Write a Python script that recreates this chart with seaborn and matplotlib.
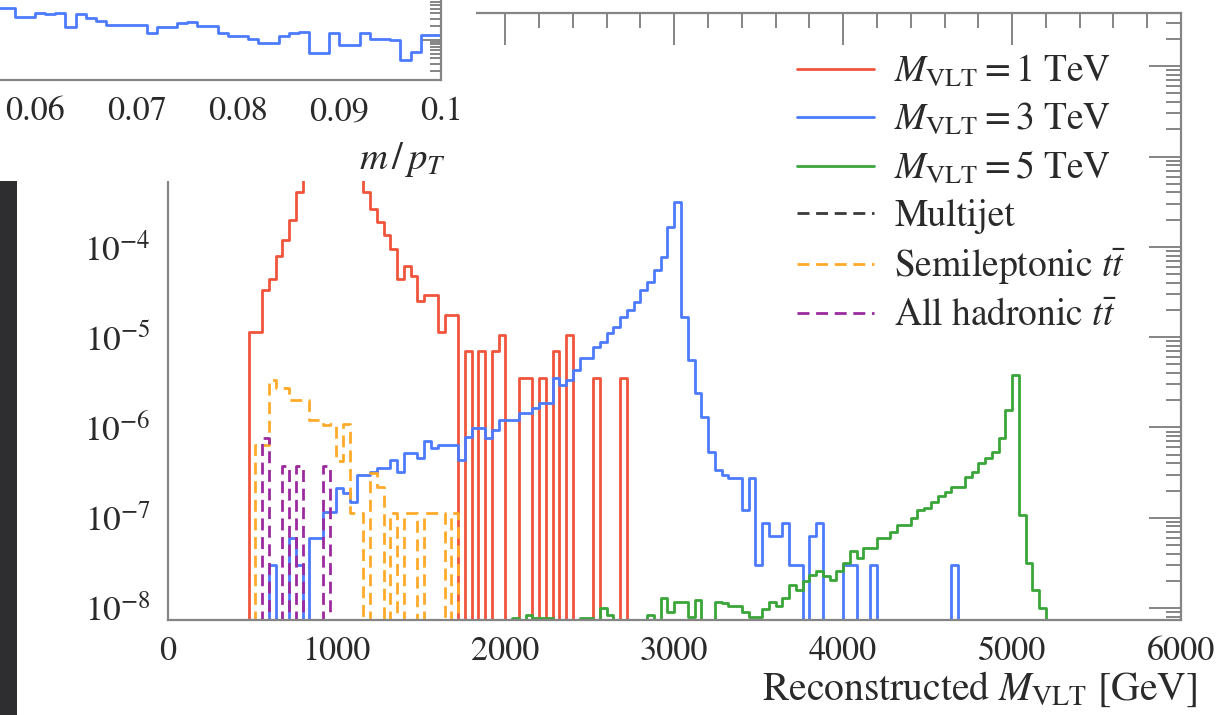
import numpy as np
import matplotlib
matplotlib.use("Agg")
import matplotlib.pyplot as plt
from matplotlib.patches import Rectangle
from matplotlib.ticker import MultipleLocator, LogLocator, NullFormatter, FuncFormatter, FixedLocator
import seaborn as sns

sns.set_theme(style="white")
plt.rcParams["font.family"] = ["STIXGeneral", "DejaVu Serif"]
plt.rcParams["mathtext.fontset"] = "stix"

# ---------------- data: reconstructed VLT mass, 40 GeV bins from 0 to 6000 GeV ----------------
BIN_GEV = 40
MASS_MAX = 6000

red_first_gev = 480
red_vals = [1.15e-5, 1.15e-5, 3.3e-5, 4.4e-5, 8.0e-5, 1.2e-4, 2.0e-4, 4.0e-4,
            7.0e-4, 1.1e-3, 1.6e-3, 2.2e-3, 2.6e-3, 2.4e-3, 1.8e-3, 1.2e-3, 7.0e-4,
            4.0e-4, 2.6e-4, 1.9e-4, 1.35e-4, 9.5e-5, 4.4e-5, 6.2e-5, 4.8e-5, 2.5e-5,
            2.9e-5, 2.9e-5, 1.15e-5, 1.75e-5, 1.75e-5,
            0, 7.0e-6, 0, 7.0e-6, 0, 7.0e-6, 1.05e-5, 0, 0, 3.5e-6, 3.5e-6, 0, 3.5e-6,
            0, 7.0e-6, 0, 1.05e-5, 0, 0, 0, 3.5e-6, 0, 0, 0, 3.5e-6]

blue_first_gev = 600
blue_vals = [3.0e-8, 0, 0, 5.9e-8, 3.0e-8, 0, 5.9e-8, 5.9e-8,
             1.17e-7, 1.17e-7, 2.12e-7, 1.87e-7, 1.5e-7, 3.0e-7, 3.0e-7, 3.24e-7,
             3.54e-7, 3.54e-7, 4.37e-7, 3.24e-7, 5.2e-7, 5.2e-7, 4.6e-7, 7.0e-7,
             5.9e-7, 6.4e-7, 6.4e-7, 6.4e-7, 4.37e-7,
             7.9e-7, 9.8e-7, 9.8e-7, 7.6e-7, 9.4e-7, 1.21e-6, 1.21e-6, 1.21e-6,
             1.43e-6, 1.43e-6, 1.63e-6, 1.85e-6, 1.85e-6, 3.5e-6, 2.95e-6, 3.36e-6,
             4.33e-6, 5.83e-6, 5.83e-6, 7.8e-6, 8.9e-6, 1.10e-5, 1.30e-5, 1.68e-5,
             2.0e-5, 2.47e-5, 3.32e-5, 4.1e-5, 5.5e-5, 7.75e-5, 1.66e-4, 3.15e-4,
             1.68e-5, 5.6e-6, 2.39e-6, 1.32e-6, 5.4e-7, 3.39e-7, 2.98e-7, 2.74e-7,
             2.74e-7, 1.22e-7, 2.74e-7, 3.0e-8, 8.7e-8, 6.2e-8, 6.2e-8, 8.7e-8, 3.0e-8,
             3.0e-8, 0, 6.2e-8, 8.7e-8, 0, 0, 0, 3.0e-8, 3.0e-8, 0, 0, 3.0e-8,
             0, 0, 0, 0, 0, 0, 0, 0, 0, 0, 0, 3.0e-8]

green_first_gev = 2040
green_vals = [7.8e-9, 0, 8.4e-9, 7.8e-9, 7.8e-9, 7.8e-9, 0, 0, 0, 0, 7.8e-9, 7.8e-9, 0,
              1.0e-8, 8.4e-9, 0, 0, 0, 0, 0, 8.4e-9, 0, 1.29e-8, 9.0e-9, 1.18e-8,
              1.18e-8, 7.9e-9, 1.23e-8, 0, 0, 1.18e-8, 1.13e-8, 1.04e-8, 1.04e-8,
              9.0e-9, 7.9e-9, 7.9e-9, 9.7e-9, 1.18e-8, 1.04e-8, 1.29e-8, 1.81e-8,
              1.6e-8, 1.97e-8, 2.33e-8, 2.54e-8, 2.25e-8, 2.06e-8, 2.54e-8, 3.15e-8,
              4.23e-8, 3.57e-8, 4.6e-8, 4.6e-8, 5.9e-8, 5.9e-8, 7.0e-8, 8.3e-8, 8.3e-8,
              1.0e-7, 1.22e-7, 1.27e-7, 1.51e-7, 1.72e-7, 1.95e-7, 2.21e-7, 2.21e-7,
              2.86e-7, 3.24e-7, 4.0e-7, 4.6e-7, 5.4e-7, 7.6e-7, 1.56e-6, 3.8e-6,
              1.08e-7, 3.15e-8, 1.6e-8, 1.0e-8]

multijet_first_gev = 0
multijet_vals = [0.0] * (MASS_MAX // BIN_GEV)

semilep_first_gev = 520
semilep_vals = [6.4e-7, 6.4e-7, 3.36e-6, 2.7e-6, 2.7e-6, 2.0e-6, 2.0e-6, 2.0e-6,
                1.21e-6, 1.21e-6, 1.07e-6, 1.1e-6, 4.3e-7, 1.1e-6, 1.13e-7, 1.13e-7,
                0, 3.1e-7, 2.2e-7, 0, 1.13e-7, 0, 1.13e-7, 1.13e-7, 0, 1.13e-7,
                1.13e-7, 1.13e-7, 0, 1.13e-7]

allhad_first_gev = 560
allhad_vals = [7.6e-7, 0, 0, 3.7e-7, 0, 3.7e-7, 0, 0, 0, 3.7e-7]

series_labels = [r"$M_{\mathrm{VLT}} = 1$ TeV", r"$M_{\mathrm{VLT}} = 3$ TeV",
                 r"$M_{\mathrm{VLT}} = 5$ TeV", "Multijet",
                 r"Semileptonic $t\bar{t}$", r"All hadronic $t\bar{t}$"]

y_decades = [1e-8, 1e-7, 1e-6, 1e-5, 1e-4, 1e-3, 1e-2]
x_ticks = [0, 1000, 2000, 3000, 4000, 5000, 6000]

# inset: m/pT distribution, 0.001 bins
inset_first = 0.056
inset_bin = 0.001
inset_vals = [0.506, 0.506, 0.330, 0.330, 0.392, 0.378, 0.405, 0.198, 0.378, 0.303,
              0.269, 0.215, 0.215, 0.215, 0.215, 0.141, 0.191, 0.191, 0.234, 0.255,
              0.205, 0.205, 0.141, 0.123, 0.123, 0.1035, 0.0843, 0.0843, 0.123, 0.141,
              0.153, 0.0506, 0.0506, 0.141, 0.0774, 0.0774, 0.141, 0.1035, 0.1035,
              0.100, 0.036, 0.0551, 0.129, 0.129]
inset_ticks = [0.06, 0.07, 0.08, 0.09, 0.1]

# ---------------- helpers ----------------
edges = np.arange(0, MASS_MAX + BIN_GEV, BIN_GEV)
centers = edges[:-1] + BIN_GEV / 2


def full_weights(first_gev, vals):
    w = np.zeros(len(centers))
    i0 = int(round(first_gev / BIN_GEV))
    w[i0:i0 + len(vals)] = vals
    return w


C_RED = "#f0553c"
C_BLUE = "#4d7bff"
C_GREEN = "#3aa63a"
C_BLACK = "#3a3a3a"
C_ORANGE = "#ffaa2a"
C_PURPLE = "#9a2a9e"
AX_GRAY = "#858585"
TXT = "#2a2a2a"
DASH = (0, (4.3, 2.4))

W, H = 1217, 715
fig = plt.figure(figsize=(W / 100, H / 100), dpi=100)
fig.patch.set_facecolor("white")

# main axes (pixel geometry: x 167.5..1181, y 13..620)
ax = fig.add_axes([167.5 / W, (H - 620) / H, (1181 - 167.5) / W, (620 - 13) / H])
ax.set_facecolor("white")

styles = [
    (red_first_gev, red_vals, C_RED, "-"),
    (blue_first_gev, blue_vals, C_BLUE, "-"),
    (green_first_gev, green_vals, C_GREEN, "-"),
    (multijet_first_gev, multijet_vals, C_BLACK, DASH),
    (semilep_first_gev, semilep_vals, C_ORANGE, DASH),
    (allhad_first_gev, allhad_vals, C_PURPLE, DASH),
]
for (first, vals, col, ls), lab in zip(styles, series_labels):
    sns.histplot(x=centers, weights=full_weights(first, vals), bins=list(edges),
                 element="step", fill=False, color=col, linewidth=2.0,
                 linestyle=ls, label=lab, ax=ax)

ax.set_yscale("log")
ax.set_xlim(0, 6000)
ax.set_ylim(10 ** -8.133, 10 ** -1.41)
ax.set_ylabel("")
ax.xaxis.set_major_locator(FixedLocator(x_ticks))
ax.xaxis.set_minor_locator(MultipleLocator(200))
ax.yaxis.set_major_locator(FixedLocator(y_decades))
ax.yaxis.set_minor_locator(LogLocator(base=10, subs=np.arange(2, 10) * 1.0, numticks=100))
ax.yaxis.set_minor_formatter(NullFormatter())

for sp in ax.spines.values():
    sp.set_color(AX_GRAY)
    sp.set_linewidth(1.6)
ax.tick_params(which="both", direction="in", top=True, right=True,
               color=AX_GRAY, width=1.4, labelcolor=TXT)
ax.tick_params(axis="x", which="major", length=23, pad=12, labelsize=24.5)
ax.tick_params(axis="x", which="minor", length=11)
ax.tick_params(axis="y", which="major", length=23, pad=12, labelsize=25.5)
ax.tick_params(axis="y", which="minor", length=11)

ax.set_xlabel(r"Reconstructed $M_{\mathrm{VLT}}$ [GeV]", fontsize=28.5,
              color=TXT, loc="right")
ax.xaxis.set_label_coords((1197 - 167.5) / (1181 - 167.5), (620 - 689) / 607)
ax.xaxis.label.set_va("center")

handles, labels = ax.get_legend_handles_labels()
leg = ax.legend(handles, labels, loc="upper left",
                bbox_to_anchor=(797 / W, 1 - 54 / H), bbox_transform=fig.transFigure,
                frameon=False, fontsize=27, handlelength=2.05, handletextpad=0.55,
                labelspacing=0.32, borderpad=0, borderaxespad=0)
for t in leg.get_texts():
    t.set_color(TXT)

# white panel holding the inset, and the dark margin below it
fig.add_artist(Rectangle((0, 1 - 181 / H), 476 / W, 181 / H, transform=fig.transFigure,
                         facecolor="white", edgecolor="none", zorder=5))
fig.add_artist(Rectangle((0, 0), 17 / W, (H - 181) / H, transform=fig.transFigure,
                         facecolor="#2e2e31", edgecolor="none", zorder=6))

# inset axes: 0.06 at x=35 px, 0.1 at x=441 px, bottom at y=80 px
axi = fig.add_axes([-110 / W, (H - 80) / H, 551 / W, 180 / H])
axi.set_zorder(10)
axi.set_facecolor("white")
inset_edges = inset_first + inset_bin * np.arange(len(inset_vals) + 1)
inset_centers = inset_edges[:-1] + inset_bin / 2
sns.histplot(x=inset_centers, weights=inset_vals, bins=list(inset_edges), element="step",
             fill=False, color=C_BLUE, linewidth=2.0, ax=axi)
axi.set_yscale("log")
axi.set_xlim(0.06 - 145 / 10150, 0.1)
axi.set_ylim(10 ** (-1 - 40 / 45), 10 ** (-1 + 140 / 45))
axi.set_ylabel("")
axi.set_xticks(inset_ticks)
axi.xaxis.set_major_formatter(FuncFormatter(lambda v, p: f"{v:g}"))
axi.xaxis.set_minor_locator(MultipleLocator(0.002))
axi.yaxis.set_major_locator(LogLocator(base=10, numticks=100))
axi.yaxis.set_minor_locator(LogLocator(base=10, subs=np.arange(2, 10) * 1.0, numticks=100))
axi.yaxis.set_major_formatter(NullFormatter())
axi.yaxis.set_minor_formatter(NullFormatter())
for sp in axi.spines.values():
    sp.set_color(AX_GRAY)
    sp.set_linewidth(1.6)
axi.tick_params(which="both", direction="in", top=True, right=True,
                color=AX_GRAY, width=1.4, labelcolor=TXT, labelsize=24.5)
axi.tick_params(axis="x", which="major", length=23, pad=12)
axi.tick_params(axis="x", which="minor", length=11)
axi.tick_params(axis="y", which="major", length=14)
axi.tick_params(axis="y", which="minor", length=8)
axi.set_xlabel(r"$m\,/\,p_T$", fontsize=28, color=TXT, loc="right")
axi.xaxis.set_label_coords(1.01, -0.44)
axi.xaxis.label.set_va("center")

fig.savefig("out.png", dpi=100, facecolor="white")
